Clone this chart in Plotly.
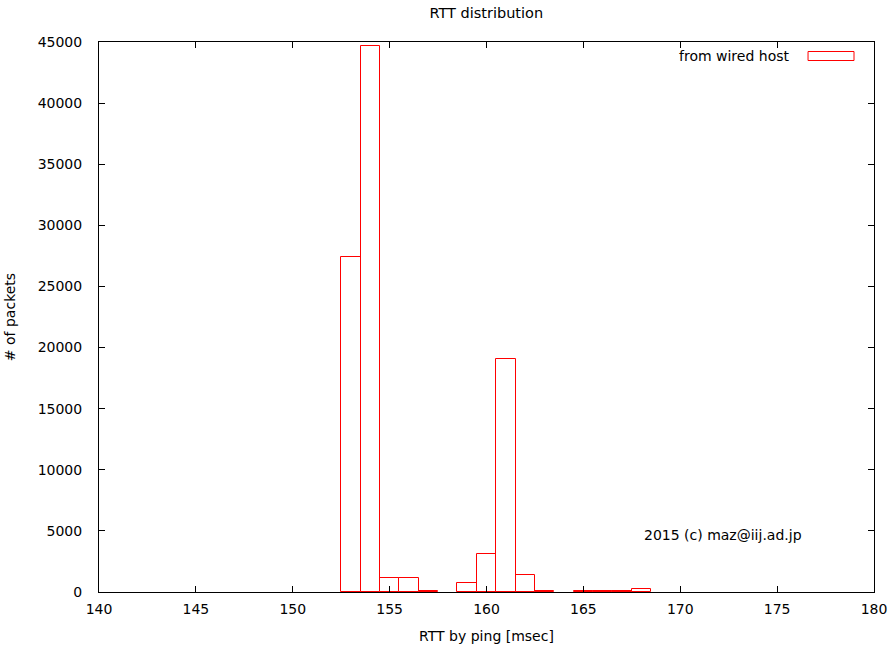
import plotly.graph_objects as go

# Data
rtt_ms = [153, 154, 155, 156, 157, 159, 160, 161, 162, 163, 165, 166, 167, 168]
packets = [27400, 44700, 1150, 1150, 100, 700, 3100, 19100, 1400, 120, 100, 100, 100, 250]
x_ticks = [140, 145, 150, 155, 160, 165, 170, 175, 180]
y_ticks = [0, 5000, 10000, 15000, 20000, 25000, 30000, 35000, 40000, 45000]
series_name = "from wired host"

FONT = "DejaVu Sans"
W, H = 889, 648
L, R, T, B = 98.5, 15, 42, 56
pw = W - L - R
ph = H - T - B

# page pixel -> paper coordinate
def px(xp):
    return (xp - L) / pw

def py(yp):
    return (H - B - yp) / ph

fig = go.Figure()
fig.add_trace(go.Bar(
    x=rtt_ms, y=packets, width=1.0, name=series_name,
    marker=dict(color="rgba(0,0,0,0)", line=dict(color="#ff0000", width=1)),
    showlegend=False, hoverinfo="skip",
))

axis_common = dict(
    showline=True, linecolor="#000000", linewidth=1, mirror="ticks",
    ticks="inside", ticklen=6, tickcolor="#000000", tickwidth=1,
    showgrid=False, zeroline=False, automargin=False,
    tickfont=dict(family=FONT, size=14, color="#000000"),
)

fig.update_layout(
    width=W, height=H, autosize=False,
    margin=dict(l=L, r=R, t=T, b=B, autoexpand=False),
    paper_bgcolor="white", plot_bgcolor="white",
    font=dict(family=FONT, size=14, color="#000000"),
    title=dict(text="RTT distribution", x=(L + pw / 2) / W, xanchor="center",
               y=1 - 13 / H, yanchor="middle",
               font=dict(family=FONT, size=14.5, color="#000000")),
    xaxis=dict(range=[140, 180], tickvals=x_ticks, ticktext=[str(v) for v in x_ticks],
               ticklabelstandoff=4,
               title=dict(text="RTT by ping [msec]", standoff=15,
                          font=dict(family=FONT, size=14)),
               **axis_common),
    yaxis=dict(range=[0, 45000], tickvals=y_ticks, ticktext=[str(v) for v in y_ticks],
               ticklabelstandoff=13,
               title=dict(text="# of packets", standoff=18,
                          font=dict(family=FONT, size=14)),
               **axis_common),
    bargap=0,
)

# legend drawn manually (gnuplot style)
fig.add_annotation(x=px(792), y=py(56), xref="paper", yref="paper",
                   text=series_name, showarrow=False, xanchor="right", yanchor="middle",
                   font=dict(family=FONT, size=14, color="#000000"))
fig.add_shape(type="rect", xref="paper", yref="paper",
              x0=px(808), x1=px(854), y0=py(60.5), y1=py(51.5),
              line=dict(color="#ff0000", width=1), fillcolor="rgba(0,0,0,0)")

fig.add_annotation(x=168.0, y=4700, xref="x", yref="y", text="2015 (c) maz@iij.ad.jp",
                   showarrow=False, xanchor="left", yanchor="middle",
                   font=dict(family=FONT, size=14, color="#000000"))

fig.write_html(
    "out.html",
    config={"displayModeBar": False, "responsive": False},
    post_script="document.body.style.margin='0';document.body.style.overflow='hidden';",
)
